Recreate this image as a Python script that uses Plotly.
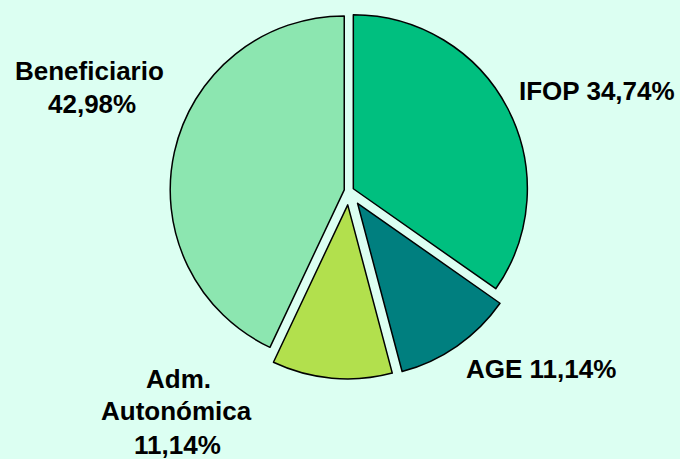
import plotly.graph_objects as go

# Datos del gráfico (orden horario desde las 12)
labels = ["IFOP", "AGE", "Adm. Autonómica", "Beneficiario"]
values = [34.74, 11.14, 11.14, 42.98]
pulls = [0.028, 0.086, 0.08, 0.028]
colors = ["#00BF7F", "#007F7F", "#B2E04D", "#8CE6B0"]

# Etiquetas: líneas de texto por sector
label_lines = [
    ["IFOP 34,74%"],
    ["AGE 11,14%"],
    ["Adm.", "Autonómica", "11,14%"],
    ["Beneficiario", "42,98%"],
]
# posiciones (px) del centro de cada línea
label_pos = [
    [(597, 91)],
    [(541, 369)],
    [(178, 379), (176, 411), (177, 445)],
    [(89, 71), (92, 104)],
]

W, H = 680, 459
BG = "#DCFFF2"

fig = go.Figure(go.Pie(
    labels=labels, values=values, pull=pulls, sort=False,
    direction="clockwise", rotation=0, textinfo="none", hoverinfo="label+percent",
    marker=dict(colors=colors, line=dict(color="black", width=1.5)),
    domain=dict(x=[160 / W, 538 / W], y=[1 - 380 / H, 1 - 2 / H]),
    showlegend=False,
))

for lines, pos in zip(label_lines, label_pos):
    for txt, (px_, py_) in zip(lines, pos):
        fig.add_annotation(
            text=f"<b>{txt}</b>", x=px_ / W, y=1 - py_ / H,
            xref="paper", yref="paper", showarrow=False,
            xanchor="center", yanchor="middle",
            font=dict(family="Liberation Sans, Arial", size=26, color="black"),
        )

fig.update_layout(
    width=W, height=H, margin=dict(l=0, r=0, t=0, b=0),
    paper_bgcolor=BG, plot_bgcolor=BG,
)
# quitar el margen del body para que la figura ocupe toda la ventana
fig.write_html(
    "out.html",
    config={"displayModeBar": False},
    post_script="document.body.style.margin='0';document.body.style.overflow='hidden';",
)
